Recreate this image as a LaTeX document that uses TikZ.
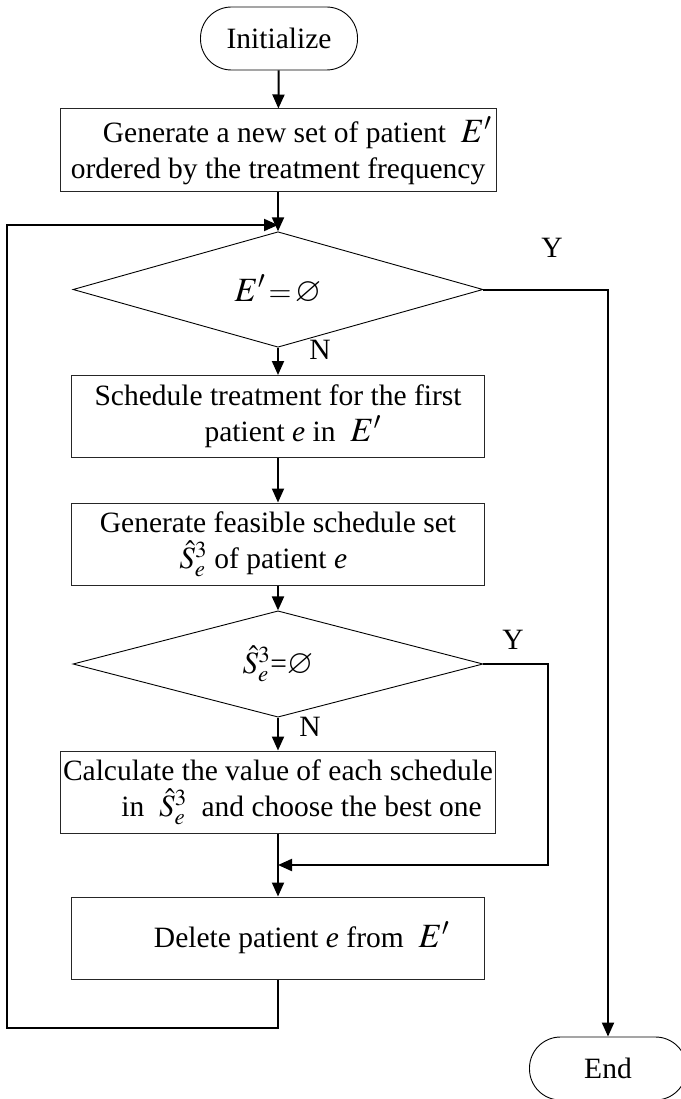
\documentclass[tikz,border=0pt]{standalone}
\usepackage{amsmath}
\usepackage{mathptmx}
\usepackage{amssymb}
\usepackage{fontspec}
\setmainfont{Liberation Serif}
\usetikzlibrary{shapes.geometric}
\usetikzlibrary{arrows.meta}

\newcommand{\Ep}{{\fontsize{34}{34}\selectfont$E'$}}
\newcommand{\Shat}{{\fontsize{31}{31}\selectfont$\hat{S}^{3}_{e}$}}
\newcommand{\Empty}{{\fontsize{34}{34}\selectfont$\varnothing$}}

\tikzset{
  proc/.style={shape=rectangle,draw=black!85,line width=1pt,minimum width=413pt,minimum height=82pt,inner sep=0pt,align=center},
  cond/.style={shape=diamond,draw=black,line width=0.9pt,minimum width=410pt,minimum height=81pt,inner sep=0pt},
  term/.style={shape=rectangle,rounded corners=31pt,draw=black,line width=0.9pt,minimum width=157pt,minimum height=63pt},
  flow/.style={line width=2pt,-{Triangle[length=14pt,width=12pt]}},
  link/.style={line width=2pt}
}

\begin{document}
\begin{tikzpicture}[x=1pt,y=-1pt,font=\fontsize{29.5}{36}\selectfont]
    \useasboundingbox (0,0) rectangle (680,1099);
    \node[term] (A) at (279,38.5) {Initialize};
    \node[proc,minimum width=436pt,minimum height=83pt] (B) at (278,150.5) {\hspace*{1.3em}Generate a new set of patient \ \Ep\\ordered by the treatment frequency};
    \node[cond] (C) at (278,289.5) {\Ep${}\,{=}\,{}$\Empty};
    \node[proc] (D) at (278,416.5) {Schedule treatment for the first\\\hspace*{1em}patient \textit{e} in \ \Ep};
    \node[proc] (E) at (278,544) {Generate feasible schedule set\\\Shat{} of patient \textit{e}\hspace*{1em}};
    \node[cond,minimum height=82pt] (F) at (278,664) {\Shat{=}\Empty};
    \node[proc,minimum width=435pt] (G) at (278,792) {Calculate the value of each schedule\\\hspace*{1.6em}in \ \Shat\ \ and choose the best one};
    \node[proc] (H) at (278,938) {\hspace*{1.6em}Delete patient \textit{e} from \ \Ep};
    \node[term] (I) at (608,1068.5) {End};
    % yes / no marks
    \node (Y1) at (552,248) {Y};
    \node (N1) at (320,350) {N};
    \node (Y2) at (513,640) {Y};
    \node (N2) at (310,727) {N};
    % corners of the connectors
    \coordinate (M1) at (278,225);
    \coordinate (M2) at (278,865);
    \coordinate (P1) at (7,1028);
    \coordinate (P2) at (548,865);
    \path [flow] (A) edge (B);
    \path [flow] (B) edge (C);
    \path [flow] (C) edge (D);
    \path [flow] (D) edge (E);
    \path [flow] (E) edge (F);
    \path [flow] (F) edge (G);
    \draw [link] (G.south) -- (M2);
    \draw [flow] (M2) -- (H.north);
    \draw [flow] (F.east) -| (P2) -- (M2);
    \draw [flow] (C.east) -| (I.north);
    \draw [flow] (H.south) |- (P1) |- (M1);
\end{tikzpicture}
\end{document}
